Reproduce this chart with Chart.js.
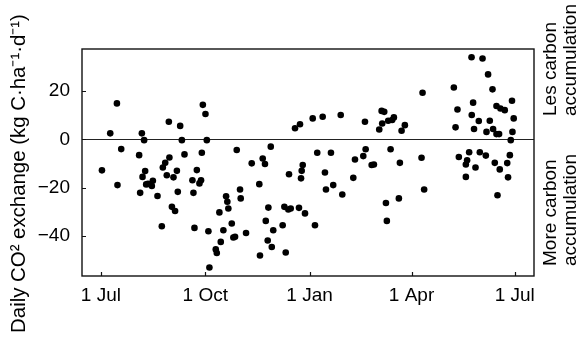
<!DOCTYPE html>
<html lang="en">
<head>
<meta charset="UTF-8" />
<meta name="viewport" content="width=device-width, initial-scale=1" />
<title>Daily CO2 exchange</title>
<script src="https://cdn.jsdelivr.net/npm/chart.js"></script>
<style>
  html, body { margin: 0; padding: 0; background: #fff; }
  #wrap { width: 583px; height: 345px; }
</style>
</head>
<body>
<div id="wrap"><canvas id="co2Canvas" width="583" height="345"></canvas></div>
<script>
  // day of year counted from 1 Jul, and the daily exchange measured that day
  const days = [
    0.9, 8.2, 14.1, 14.6, 17.9, 33.7, 34.6, 36.1, 36.7, 38.1,
    39.0, 39.9, 41.5, 44.9, 45.8, 49.9, 53.7, 54.6, 56.7, 58.1,
    59.9, 60.4, 62.6, 64.0, 65.4, 67.0, 67.8, 69.9, 71.4, 73.7,
    80.7, 81.6, 82.5, 84.6, 86.9, 88.3, 89.0, 89.9, 92.2, 93.4,
    94.8, 95.7, 101.3, 102.2, 104.5, 105.7, 108.0, 110.4, 111.5, 112.4,
    115.4, 116.8, 118.3, 119.8, 122.7, 123.3, 128.0, 133.0, 139.7, 140.3,
    142.7, 144.7, 145.4, 147.1, 147.7, 149.8, 150.7, 152.0, 160.3, 161.8,
    163.0, 165.3, 165.9, 167.4, 171.2, 174.7, 175.6, 176.5, 177.1, 178.0,
    180.0, 186.8, 188.8, 190.8, 195.6, 197.6, 198.5, 202.9, 204.9, 211.5,
    212.9, 222.6, 224.1, 231.4, 232.9, 233.5, 238.8, 240.8, 245.5, 247.6,
    248.1, 249.9, 251.4, 252.2, 253.4, 255.5, 256.9, 258.4, 262.8, 263.7,
    265.2, 268.1, 282.8, 283.7, 285.1, 311.3, 312.8, 314.5, 315.7, 321.9,
    321.9, 323.0, 324.8, 326.9, 327.1, 328.3, 329.1, 330.4, 333.3, 334.2,
    336.6, 339.5, 340.1, 341.5, 343.0, 345.4, 345.9, 347.4, 348.9, 348.9,
    349.8, 351.2, 351.8, 352.4, 356.2, 358.4, 359.1, 360.7, 361.5, 362.6,
    363.0, 364.1
  ];
  const exchange = [
    -12.8, 2.5, 14.9, -18.9, -4.0, -6.5, -22.1, 2.5, -15.5, -0.3,
    -13.1, -18.6, -18.4, -19.3, -17.1, -23.4, -35.9, -11.6, -9.7, -14.8,
    7.3, -7.5, -27.9, -15.7, -29.6, -13.0, -21.7, 5.6, -0.3, -6.2,
    -16.9, -22.1, -36.6, -12.7, -18.2, -16.9, -5.5, 14.3, 10.5, -0.3,
    -38.0, -53.0, -45.5, -47.0, -30.2, -42.4, -37.6, -23.5, -25.8, -28.6,
    -34.8, -40.6, -40.3, -4.4, -20.7, -24.4, -38.7, -9.9, -18.5, -48.0,
    -7.9, -10.2, -33.7, -41.8, -28.2, -3.0, -44.5, -37.6, -35.5, -27.9,
    -46.8, -29.0, -14.4, -28.6, 4.6, -28.3, 6.3, -16.1, -13.0, -10.6,
    -30.6, 8.7, -35.5, -5.5, 9.4, -13.7, -20.7, -5.5, -18.9, 10.1,
    -22.8, -15.9, -8.3, -6.9, 7.3, -4.1, -10.6, -10.4, 4.1, 11.8,
    6.6, 11.4, -26.3, -33.7, 7.7, -4.1, 8.0, 9.1, -24.4, -9.7,
    3.6, 5.9, -7.6, 19.3, -20.7, 21.5, 5.0, 12.4, -7.3, -10.4,
    -15.5, -8.6, -5.3, 34.0, 10.1, 15.2, 4.3, -11.6, 7.6, -5.3,
    33.5, -6.7, 3.1, 26.9, 7.7, 20.7, 4.3, -9.7, 2.2, 13.8,
    -23.1, 2.2, -12.4, 12.8, 12.1, -9.8, -15.7, -6.5, -0.3, 16.0,
    3.1, 8.7
  ];

  const xTickDays = [0, 92, 184, 274, 365];
  const xTickLabels = ['1 Jul', '1 Oct', '1 Jan', '1 Apr', '1 Jul'];
  const yTickValues = [-40, -20, 0, 20];

  const yTitle = 'Daily CO² exchange (kg C·ha⁻¹·d⁻¹)';
  const upperNote = ['Les carbon', 'accumulation'];
  const lowerNote = ['More carbon', 'accumulation'];

  const FONT = 'Arial, "Liberation Sans", Helvetica, sans-serif';

  // frame, inward tick marks, zero line and the rotated side texts
  const decorations = {
    id: 'decorations',
    beforeDatasetsDraw(chart) {
      const { ctx, chartArea: a, scales: { y } } = chart;
      const y0 = Math.round(y.getPixelForValue(0)) + 0.5;
      ctx.save();
      ctx.strokeStyle = '#222';
      ctx.lineWidth = 1.2;
      ctx.beginPath();
      ctx.moveTo(a.left, y0);
      ctx.lineTo(a.right, y0);
      ctx.stroke();
      ctx.restore();
    },
    afterDraw(chart) {
      const { ctx, chartArea: a, scales: { x, y } } = chart;
      ctx.save();
      ctx.strokeStyle = '#111';
      ctx.lineWidth = 1.4;
      ctx.strokeRect(a.left, a.top, a.right - a.left, a.bottom - a.top);

      ctx.lineWidth = 1.2;
      ctx.beginPath();
      xTickDays.forEach(d => {
        const px = Math.round(x.getPixelForValue(d)) + 0.5;
        ctx.moveTo(px, a.bottom);
        ctx.lineTo(px, a.bottom - 4);
      });
      yTickValues.forEach(v => {
        const py = Math.round(y.getPixelForValue(v)) + 0.5;
        ctx.moveTo(a.left, py);
        ctx.lineTo(a.left + 4, py);
      });
      ctx.stroke();

      ctx.fillStyle = '#000';
      ctx.textBaseline = 'middle';

      ctx.save();
      ctx.textAlign = 'center';
      ctx.translate(19, 173.5);
      ctx.rotate(-Math.PI / 2);
      ctx.font = '20.4px ' + FONT;
      ctx.fillText(yTitle, 0, 0);
      ctx.restore();

      // two-line notes read bottom to top, starting at startY
      const note = (lines, startY) => {
        ctx.save();
        ctx.font = '19px ' + FONT;
        ctx.textAlign = 'left';
        lines.forEach((line, i) => {
          ctx.save();
          ctx.translate(551 + i * 20, startY);
          ctx.rotate(-Math.PI / 2);
          ctx.fillText(line, 0, 0);
          ctx.restore();
        });
        ctx.restore();
      };
      note(upperNote, 116);
      note(lowerNote, 266);
      ctx.restore();
    }
  };

  new Chart(document.getElementById('co2Canvas'), {
    type: 'scatter',
    data: {
      datasets: [{
        data: days.map((d, i) => ({ x: d, y: exchange[i] })),
        backgroundColor: '#000',
        borderWidth: 0,
        pointRadius: 3.3,
        pointHoverRadius: 3.3
      }]
    },
    options: {
      responsive: false,
      animation: false,
      devicePixelRatio: 1,
      layout: { padding: { top: 49, right: 49, left: 0, bottom: 0 } },
      plugins: { legend: { display: false }, tooltip: { enabled: false } },
      scales: {
        x: {
          type: 'linear',
          min: -16.7,
          max: 382,
          afterBuildTicks: s => { s.ticks = xTickDays.map(v => ({ value: v })); },
          afterFit: s => { s.height = 69; },
          grid: { display: false, drawTicks: false },
          border: { display: false },
          ticks: {
            autoSkip: false,
            maxRotation: 0,
            padding: 8,
            color: '#000',
            font: { family: FONT, size: 19 },
            callback: v => xTickLabels[xTickDays.indexOf(v)]
          }
        },
        y: {
          min: -56.5,
          max: 37.4,
          afterBuildTicks: s => { s.ticks = yTickValues.map(v => ({ value: v })); },
          afterFit: s => { s.width = 82; },
          grid: { display: false, drawTicks: false },
          border: { display: false },
          ticks: {
            padding: 12,
            color: '#000',
            font: { family: FONT, size: 19 },
            callback: v => String(v).replace('-', '−')
          }
        }
      }
    },
    plugins: [decorations]
  });
</script>
</body>
</html>
